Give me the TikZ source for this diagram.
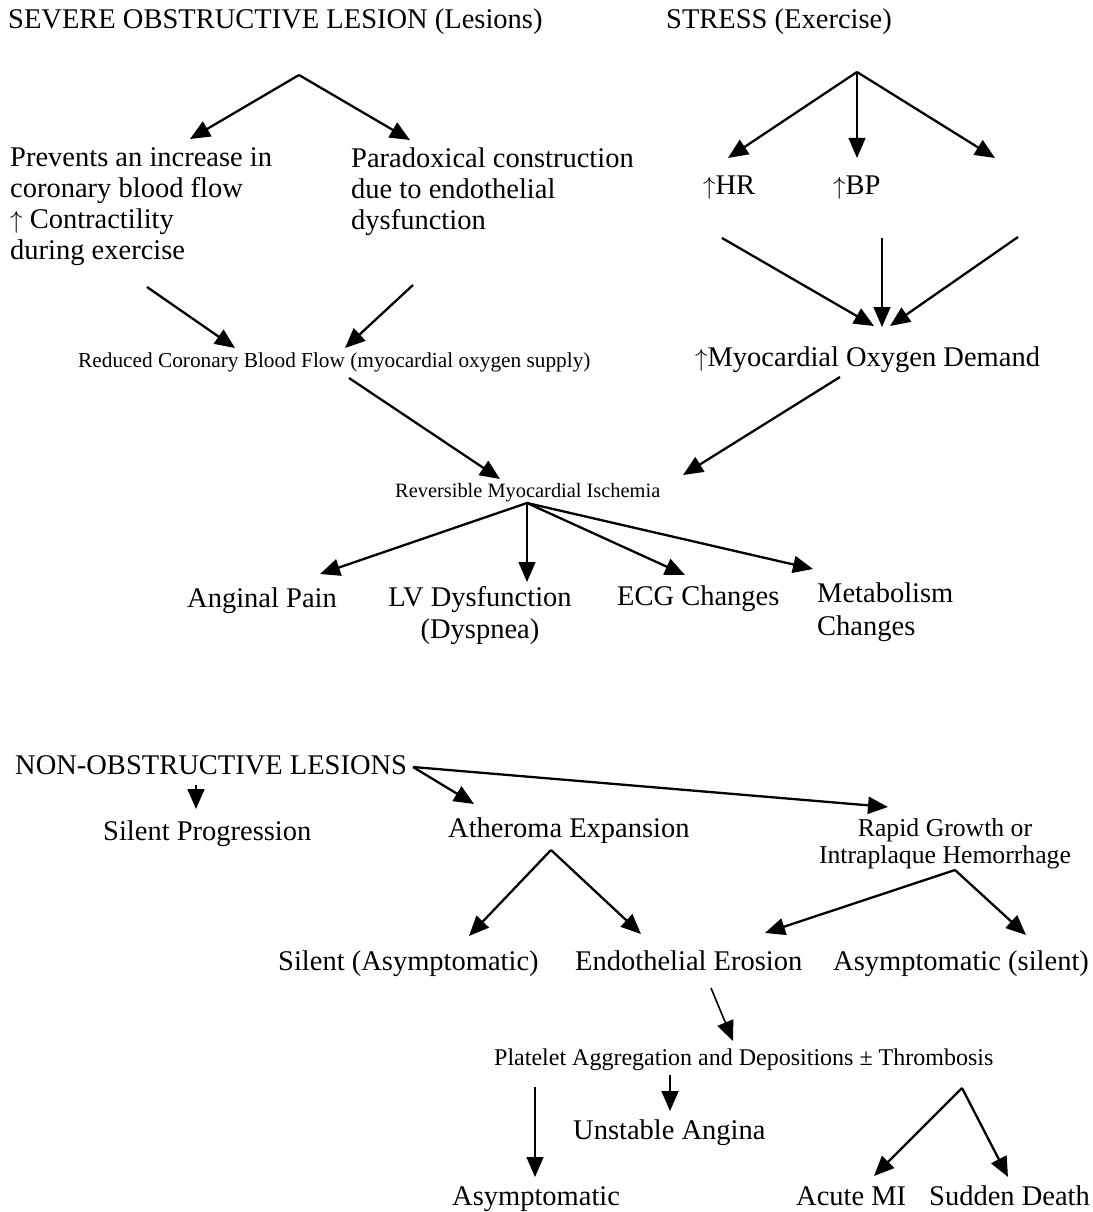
\documentclass[tikz,border=0pt]{standalone}
\usepackage{amsmath,amssymb}
\usepackage{fontspec}
\setmainfont{Liberation Serif}
\usepackage{tikz}
\usetikzlibrary{arrows.meta, positioning}

\tikzset{
  bigtxt/.style={font=\fontsize{28.5}{31}\selectfont, inner sep=0pt, anchor=base west, align=left},
  midtxt/.style={font=\fontsize{25.7}{27}\selectfont, inner sep=0pt, anchor=base, align=center},
  smalltxt/.style={font=\fontsize{21}{22}\selectfont, inner sep=0pt, anchor=base west},
  flow/.style={->, line width=2.3pt},
  thinflow/.style={->, line width=1.3pt},
}

\begin{document}
\begin{tikzpicture}[x=1pt, y=-1pt, >={Triangle[length=20pt, width=17pt]}]
  \useasboundingbox (0,0) rectangle (1092,1212);

  % Severe lesion branch
  \node[bigtxt] (lesion) at (8,29) {SEVERE OBSTRUCTIVE LESION (Lesions)};
  \node[bigtxt] (prevents) at (10,259) {Prevents an increase in\\coronary blood flow\\$\uparrow$ Contractility\\during exercise};
  \node[bigtxt] (paradox) at (351,229) {Paradoxical construction\\due to endothelial\\dysfunction};
  \coordinate (lesSplit) at (299,75);
  \coordinate (prevTip) at (190,139);
  \coordinate (parTip) at (410,140);
  \draw[flow] (lesSplit) -- (prevTip);
  \draw[flow] (lesSplit) -- (parTip);

  % Stress branch
  \node[bigtxt] (stress) at (666,29) {STRESS (Exercise)};
  \node[bigtxt] (hr) at (703,194) {$\uparrow$HR};
  \node[bigtxt] (bp) at (833,194) {$\uparrow$BP};
  \coordinate (strSplit) at (857,72);
  \coordinate (hrTip) at (728,158);
  \coordinate (bpTip) at (857,158);
  \coordinate (thirdTip) at (995,158);
  \draw[flow] (strSplit) -- (hrTip);
  \draw[thinflow] (strSplit) -- (bpTip);
  \draw[flow] (strSplit) -- (thirdTip);

  % Demand
  \node[bigtxt] (demand) at (695,366) {$\uparrow$Myocardial Oxygen Demand};
  \coordinate (hrOut) at (722,238);
  \coordinate (bpOut) at (882,238);
  \coordinate (thirdOut) at (1018,237);
  \draw[flow] (hrOut) -- (874,326);
  \draw[thinflow] (bpOut) -- (882,327);
  \draw[flow] (thirdOut) -- (890,326);

  % Supply
  \node[smalltxt, font=\fontsize{21.3}{22}\selectfont] (reduced) at (78,367) {Reduced Coronary Blood Flow (myocardial oxygen supply)};
  \coordinate (prevOut) at (147,287);
  \coordinate (parOut) at (413,285);
  \draw[flow] (prevOut) -- (235,348);
  \draw[flow] (parOut) -- (345,348);

  % Ischemia
  \node[smalltxt, font=\fontsize{20.4}{22}\selectfont] (ischemia) at (395,497) {Reversible Myocardial Ischemia};
  \coordinate (redOut) at (349,378);
  \coordinate (demOut) at (840,377);
  \draw[flow] (redOut) -- (500,479);
  \draw[flow] (demOut) -- (683,475);

  % Consequences
  \node[bigtxt] (angina) at (187,607) {Anginal Pain};
  \node[bigtxt, font=\fontsize{28.5}{32}\selectfont, align=center, anchor=base] (lvdys) at (480,638) {LV Dysfunction\\(Dyspnea)};
  \node[bigtxt] (ecg) at (617,605) {ECG Changes};
  \node[bigtxt, font=\fontsize{28.5}{33}\selectfont] (metab) at (817,635) {Metabolism\\Changes};
  \coordinate (ischSplit) at (527,503);
  \draw[flow] (ischSplit) -- (320,574);
  \draw[thinflow] (ischSplit) -- (527,582);
  \draw[flow] (ischSplit) -- (685,575);
  \draw[flow] (ischSplit) -- (813,569);

  % Non-obstructive lesions
  \node[bigtxt] (nonobs) at (15,774) {NON-OBSTRUCTIVE LESIONS};
  \node[bigtxt] (silprog) at (103,840) {Silent Progression};
  \node[bigtxt] (atheroma) at (448,837) {Atheroma Expansion};
  \node[midtxt] (rapid) at (945,863) {Rapid Growth or\\Intraplaque Hemorrhage};
  \coordinate (nonSplit) at (413,767);
  \draw[flow] (nonSplit) -- (474,804);
  \draw[flow] (nonSplit) -- (888,807);
  \draw[->, line width=1.8pt] (196,785) -- (196,809);

  % Expansion and rapid growth
  \node[bigtxt] (silasym) at (278,970) {Silent (Asymptomatic)};
  \node[bigtxt] (erosion) at (575,970) {Endothelial Erosion};
  \node[bigtxt] (asymsil) at (833,970) {Asymptomatic (silent)};
  \coordinate (athSplit) at (551,850);
  \coordinate (rapSplit) at (955,870);
  \draw[flow] (athSplit) -- (469,936);
  \draw[flow] (athSplit) -- (641,934);
  \draw[flow] (rapSplit) -- (765,933);
  \draw[flow] (rapSplit) -- (1026,935);

  % Thrombosis
  \node[smalltxt, font=\fontsize{24}{26}\selectfont] (platelet) at (494,1065) {Platelet Aggregation and Depositions ± Thrombosis};
  \draw[->, line width=1.6pt] (711,988) -- (733,1041);
  \node[bigtxt] (unstable) at (573,1139) {Unstable Angina};
  \node[bigtxt] (asym) at (452,1205) {Asymptomatic};
  \node[bigtxt] (acutemi) at (796,1205) {Acute MI};
  \node[bigtxt] (death) at (929,1205) {Sudden Death};
  \draw[->, line width=1.8pt] (670,1075) -- (670,1111);
  \draw[thinflow] (535,1087) -- (535,1177);
  \coordinate (thrSplit) at (962,1088);
  \draw[flow] (thrSplit) -- (874,1176);
  \draw[flow] (thrSplit) -- (1008,1177);
\end{tikzpicture}
\end{document}
